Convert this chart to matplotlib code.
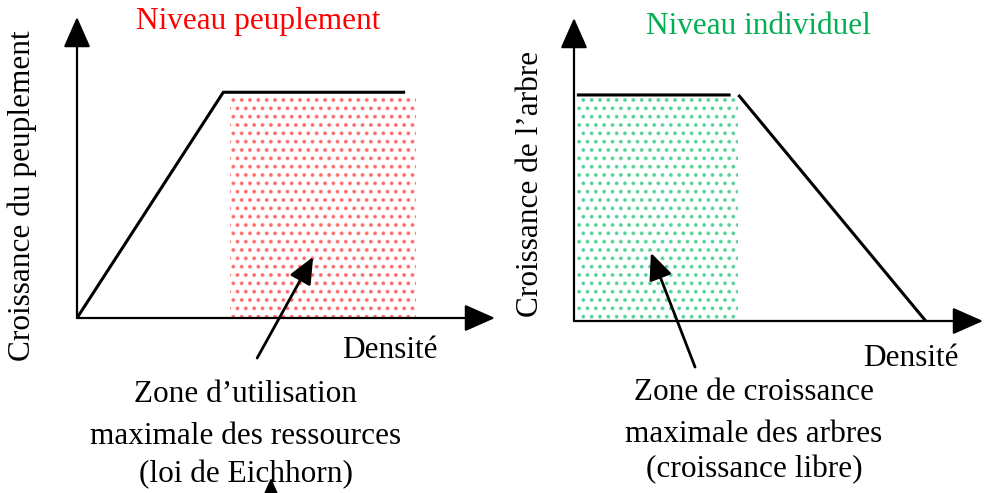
import numpy as np
import matplotlib
matplotlib.use("Agg")
import matplotlib.pyplot as plt

plt.rcParams['font.family'] = ['Liberation Serif', 'DejaVu Serif']
plt.rcParams['hatch.linewidth'] = 1.6

# ---- data (arbitrary units, 0..10 on both axes) ----
left_density = [0.0, 3.5, 7.85]
left_growth = [0.0, 7.5, 7.5]
left_zone = [3.65, 8.1]
left_zone_top = 7.4

right_density = [0.07, 3.83, np.nan, 4.02, 8.6]
right_growth = [7.46, 7.46, np.nan, 7.46, 0.0]
right_zone = [0.07, 4.02]
right_zone_top = 7.39

left_title = "Niveau peuplement"
right_title = "Niveau individuel"
left_ylabel = "Croissance du peuplement"
right_ylabel = "Croissance de l\u2019arbre"
xlabel = "Densit\u00e9"
left_note = ["Zone d\u2019utilisation", "maximale des ressources", "(loi de Eichhorn)"]
right_note = ["Zone de croissance", "maximale des arbres", "(croissance libre)"]

W, H = 984, 493
fig = plt.figure(figsize=(W / 100, H / 100), dpi=100)
fig.patch.set_facecolor("white")


def rect(x0, x1, ytop, ybot):
    return [x0 / W, 1 - ybot / H, (x1 - x0) / W, (ybot - ytop) / H]


def fx(x):
    return x / W


def fy(y):
    return 1 - y / H


FS = 22.5
red_dots = "#ff3030"
green_dots = "#10c070"


def setup(ax):
    ax.set_xlim(0, 10)
    ax.set_ylim(0, 10)
    ax.axis("off")
    arrow = dict(arrowstyle="-|>,head_length=0.95,head_width=0.42", color="black",
                 lw=1.6, mutation_scale=20, shrinkA=0, shrinkB=0)
    ax.annotate("", xy=(0, 1), xytext=(0, 0), xycoords="axes fraction",
                textcoords="axes fraction", arrowprops=arrow, annotation_clip=False)
    ax.annotate("", xy=(1, 0), xytext=(0, 0), xycoords="axes fraction",
                textcoords="axes fraction", arrowprops=arrow, annotation_clip=False)


# ---- left panel ----
axL = fig.add_axes(rect(77, 495, 17, 318))
setup(axL)
axL.fill_between(left_zone, 0, left_zone_top, facecolor="none", edgecolor=red_dots,
                 hatch="..", linewidth=0, alpha=0.6)
axL.plot(left_density, left_growth, color="black", lw=2.2, solid_capstyle="butt")
axL.annotate("", xy=(5.65, 2.03), xytext=(4.31, -1.33),
             arrowprops=dict(arrowstyle="-|>,head_length=0.95,head_width=0.42", color="black",
                             lw=2.0, mutation_scale=17, shrinkA=0, shrinkB=0),
             annotation_clip=False)

# ---- right panel ----
axR = fig.add_axes(rect(574, 983, 18, 321))
setup(axR)
axR.fill_between(right_zone, 0, right_zone_top, facecolor="none", edgecolor=green_dots,
                 hatch="..", linewidth=0, alpha=0.6)
axR.plot(right_density, right_growth, color="black", lw=2.2, solid_capstyle="butt")
axR.annotate("", xy=(1.88, 2.25), xytext=(2.96, -1.52),
             arrowprops=dict(arrowstyle="-|>,head_length=0.95,head_width=0.42", color="black",
                             lw=2.0, mutation_scale=17, shrinkA=0, shrinkB=0),
             annotation_clip=False)

# ---- texts ----
fig.text(fx(258), fy(22), left_title, color="#ff0000", fontsize=FS, ha="center", va="center")
fig.text(fx(758), fy(27), right_title, color="#00b050", fontsize=FS, ha="center", va="center")
fig.text(fx(22), fy(196), left_ylabel, fontsize=FS, rotation=90, ha="center", va="center")
fig.text(fx(530), fy(184), right_ylabel, fontsize=FS, rotation=90, ha="center", va="center")
fig.text(fx(390), fy(350), xlabel, fontsize=FS, ha="center", va="center")
fig.text(fx(911), fy(358), xlabel, fontsize=FS, ha="center", va="center")

for yy, line in zip([395, 437, 475], left_note):
    fig.text(fx(246), fy(yy), line, fontsize=FS, ha="center", va="center")
for yy, line in zip([393, 435, 470], right_note):
    fig.text(fx(754), fy(yy), line, fontsize=FS, ha="center", va="center")

# small arrow head under "Eichhorn"
fig.add_artist(matplotlib.patches.FancyArrowPatch(
    (fx(271), fy(495)), (fx(271), fy(478)), transform=fig.transFigure,
    arrowstyle="-|>,head_length=0.9,head_width=0.4", mutation_scale=11,
    color="black", lw=1.2, shrinkA=0, shrinkB=0))

fig.savefig("out.png", dpi=100, facecolor="white")
